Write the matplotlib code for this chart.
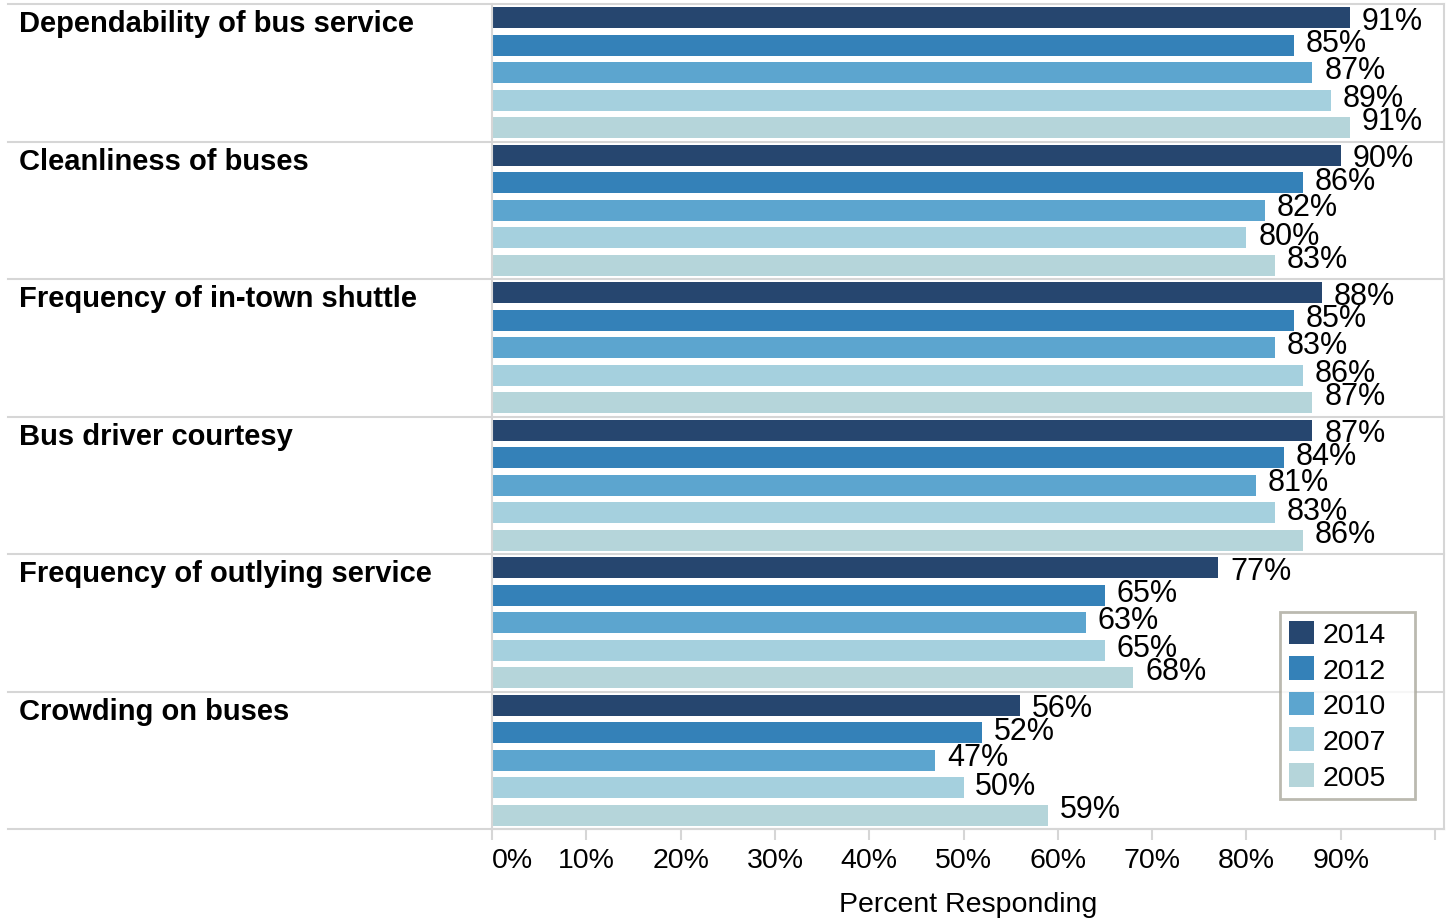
import matplotlib.pyplot as plt

plt.rcParams["font.family"] = ["Liberation Sans", "DejaVu Sans"]

categories = [
    "Dependability of bus service",
    "Cleanliness of buses",
    "Frequency of in-town shuttle",
    "Bus driver courtesy",
    "Frequency of outlying service",
    "Crowding on buses",
]
years = ["2014", "2012", "2010", "2007", "2005"]
pct_2014 = [91, 90, 88, 87, 77, 56]
pct_2012 = [85, 86, 85, 84, 65, 52]
pct_2010 = [87, 82, 83, 81, 63, 47]
pct_2007 = [89, 80, 86, 83, 65, 50]
pct_2005 = [91, 83, 87, 86, 68, 59]
tick_values = [0, 10, 20, 30, 40, 50, 60, 70, 80, 90, 100]
tick_labels = ["0%", "10%", "20%", "30%", "40%", "50%", "60%", "70%", "80%", "90%", ""]

series = [pct_2014, pct_2012, pct_2010, pct_2007, pct_2005]
colors = ["#26466f", "#3481b8", "#5ca5cf", "#a5d0de", "#b5d5da"]
# labels drift slightly upward within each group
label_dy = [-2, 1.6, 2.3, 1.6, 4.5]

W, H = 1448, 920
fig = plt.figure(figsize=(W / 100, H / 100), dpi=100)
ax = fig.add_axes([492 / W, 1 - 830 / H, (1444 - 492) / W, (830 - 5) / H])

n_years = len(years)
grid_color = "#d6d6d6"

for k, (vals, col, dy) in enumerate(zip(series, colors, label_dy)):
    ys = [g * n_years + k + 0.5 for g in range(len(categories))]
    ax.barh(ys, vals, height=0.75, color=col, label=years[k], zorder=2)
    for y, v in zip(ys, vals):
        ax.annotate(f"{v}%", (v, y), xytext=(8.5, dy), textcoords="offset points",
                    ha="left", va="center", fontsize=22, color="black", zorder=4)

ax.set_xlim(0, 100.95)
ax.set_ylim(n_years * len(categories), 0)

# group separators run across the label pane too
x_left = (8 - 492) / (1444 - 492)
for g in range(len(categories) + 1):
    ax.axhline(g * n_years, xmin=x_left, xmax=1, color=grid_color, lw=1.5,
               clip_on=False, zorder=1)

for g, name in enumerate(categories):
    ax.text((19 - 492) / (1444 - 492), g * n_years + 0.2, name,
            transform=ax.get_yaxis_transform(), ha="left", va="top",
            fontsize=21, fontweight="bold", color="black")

for side in ["left", "right", "top", "bottom"]:
    ax.spines[side].set_color(grid_color)
    ax.spines[side].set_linewidth(1.5)
ax.spines["top"].set_visible(False)

ax.set_yticks([])
ax.set_xticks(tick_values)
ax.set_xticklabels(tick_labels, fontsize=20.5)
ax.tick_params(axis="x", length=8, width=1.5, color=grid_color, pad=5)
ax.get_xticklabels()[0].set_horizontalalignment("left")
ax.set_xlabel("Percent Responding", fontsize=20.5, labelpad=13)

# legend box spans a fixed width, like a floating card
ax_w = 1444 - 492
leg_x0 = (1280 - 492) / ax_w
leg_w = (1415 - 1280) / ax_w
leg_top = 1 - (613 - 5) / 825
leg = ax.legend(loc="upper left", bbox_to_anchor=(leg_x0, leg_top - 0.2, leg_w, 0.2),
                mode="expand", fontsize=20.5, frameon=True, fancybox=False,
                handlelength=0.9, handleheight=0.9, handletextpad=0.3,
                labelspacing=0.28, borderpad=0.3, borderaxespad=0)
leg.get_frame().set_edgecolor("#aaa89c")
leg.get_frame().set_linewidth(2)

fig.savefig("out.png", dpi=100)
